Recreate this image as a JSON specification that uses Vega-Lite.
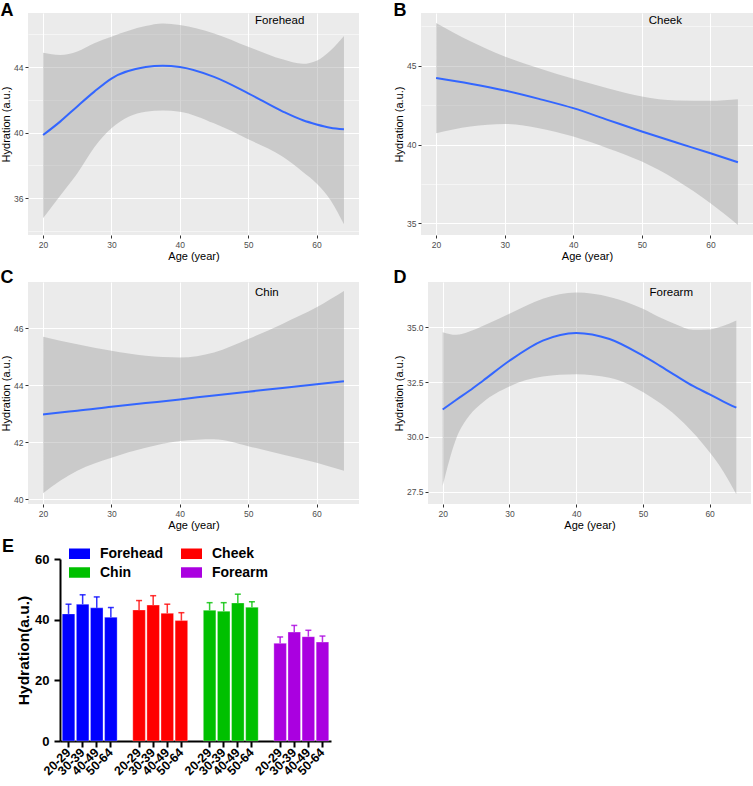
{
  "$schema": "https://vega.github.io/schema/vega-lite/v6.json",
  "padding": {"top": 2, "left": 0, "right": 0, "bottom": 0},
  "background": "white",
  "config": {
    "font": "Liberation Sans",
    "title": {"anchor": "start", "frame": "bounds", "fontSize": 18, "fontWeight": "bold", "color": "black", "offset": -5},
    "axis": {
      "gridColor": "white", "gridOpacity": 1, "domain": false, "tickColor": "#333333", "tickSize": 3, "tickWidth": 1,
      "labelColor": "#4D4D4D", "labelFontSize": 8.5, "labelPadding": 2, "labelFlush": false, "labelOverlap": false,
      "titleFontSize": 11, "titleFontWeight": "normal", "titleColor": "black", "titlePadding": 2
    }
  },
  "datasets": {
    "smooth": [
      {"site": "Forehead", "age": 20, "fit": 39.85, "lo": 34.78, "hi": 44.87},
      {"site": "Forehead", "age": 22.5, "fit": 40.67, "lo": 36.15, "hi": 44.73},
      {"site": "Forehead", "age": 25, "fit": 41.6, "lo": 37.5, "hi": 44.95},
      {"site": "Forehead", "age": 27.5, "fit": 42.5, "lo": 39.1, "hi": 45.45},
      {"site": "Forehead", "age": 30, "fit": 43.3, "lo": 40.26, "hi": 45.85},
      {"site": "Forehead", "age": 35, "fit": 44.0, "lo": 41.28, "hi": 46.5},
      {"site": "Forehead", "age": 37.5, "fit": 44.08, "lo": 41.35, "hi": 46.66},
      {"site": "Forehead", "age": 40, "fit": 44.0, "lo": 41.28, "hi": 46.56},
      {"site": "Forehead", "age": 45, "fit": 43.4, "lo": 40.57, "hi": 46.05},
      {"site": "Forehead", "age": 50, "fit": 42.4, "lo": 39.6, "hi": 45.24},
      {"site": "Forehead", "age": 55, "fit": 41.3, "lo": 38.54, "hi": 44.47},
      {"site": "Forehead", "age": 58, "fit": 40.75, "lo": 37.6, "hi": 44.2},
      {"site": "Forehead", "age": 60, "fit": 40.5, "lo": 36.9, "hi": 44.39},
      {"site": "Forehead", "age": 62, "fit": 40.3, "lo": 35.9, "hi": 45.0},
      {"site": "Forehead", "age": 64, "fit": 40.2, "lo": 34.4, "hi": 45.9},
      {"site": "Cheek", "age": 20, "fit": 44.22, "lo": 40.72, "hi": 47.71},
      {"site": "Cheek", "age": 25, "fit": 43.86, "lo": 41.14, "hi": 46.55},
      {"site": "Cheek", "age": 30, "fit": 43.43, "lo": 41.31, "hi": 45.59},
      {"site": "Cheek", "age": 35, "fit": 42.9, "lo": 41.04, "hi": 44.85},
      {"site": "Cheek", "age": 40, "fit": 42.31, "lo": 40.51, "hi": 44.17},
      {"site": "Cheek", "age": 45, "fit": 41.57, "lo": 39.77, "hi": 43.58},
      {"site": "Cheek", "age": 50, "fit": 40.83, "lo": 38.92, "hi": 43.05},
      {"site": "Cheek", "age": 55, "fit": 40.13, "lo": 37.75, "hi": 42.8},
      {"site": "Cheek", "age": 60, "fit": 39.45, "lo": 36.27, "hi": 42.78},
      {"site": "Cheek", "age": 64, "fit": 38.88, "lo": 34.9, "hi": 42.88},
      {"site": "Chin", "age": 20, "fit": 42.97, "lo": 40.21, "hi": 45.7},
      {"site": "Chin", "age": 22.5, "fit": 43.04, "lo": 40.65, "hi": 45.56},
      {"site": "Chin", "age": 25, "fit": 43.1, "lo": 41.0, "hi": 45.44},
      {"site": "Chin", "age": 30, "fit": 43.24, "lo": 41.45, "hi": 45.21},
      {"site": "Chin", "age": 35, "fit": 43.37, "lo": 41.8, "hi": 45.03},
      {"site": "Chin", "age": 40, "fit": 43.5, "lo": 42.04, "hi": 44.97},
      {"site": "Chin", "age": 45, "fit": 43.64, "lo": 42.1, "hi": 45.15},
      {"site": "Chin", "age": 50, "fit": 43.77, "lo": 41.86, "hi": 45.62},
      {"site": "Chin", "age": 55, "fit": 43.9, "lo": 41.57, "hi": 46.15},
      {"site": "Chin", "age": 60, "fit": 44.03, "lo": 41.28, "hi": 46.73},
      {"site": "Chin", "age": 64, "fit": 44.14, "lo": 41.0, "hi": 47.3},
      {"site": "Forearm", "age": 20, "fit": 31.25, "lo": 27.77, "hi": 34.77},
      {"site": "Forearm", "age": 22, "fit": 31.68, "lo": 29.9, "hi": 34.65},
      {"site": "Forearm", "age": 24, "fit": 32.1, "lo": 30.97, "hi": 34.8},
      {"site": "Forearm", "age": 26, "fit": 32.55, "lo": 31.57, "hi": 35.05},
      {"site": "Forearm", "age": 30, "fit": 33.47, "lo": 32.3, "hi": 35.61},
      {"site": "Forearm", "age": 35, "fit": 34.39, "lo": 32.75, "hi": 36.3},
      {"site": "Forearm", "age": 40, "fit": 34.74, "lo": 32.86, "hi": 36.58},
      {"site": "Forearm", "age": 45, "fit": 34.46, "lo": 32.7, "hi": 36.38},
      {"site": "Forearm", "age": 50, "fit": 33.7, "lo": 32.05, "hi": 35.84},
      {"site": "Forearm", "age": 52.5, "fit": 33.25, "lo": 31.55, "hi": 35.45},
      {"site": "Forearm", "age": 55, "fit": 32.78, "lo": 30.95, "hi": 35.12},
      {"site": "Forearm", "age": 57.5, "fit": 32.32, "lo": 30.2, "hi": 34.88},
      {"site": "Forearm", "age": 60, "fit": 31.94, "lo": 29.3, "hi": 34.9},
      {"site": "Forearm", "age": 62, "fit": 31.62, "lo": 28.45, "hi": 35.05},
      {"site": "Forearm", "age": 64, "fit": 31.33, "lo": 27.38, "hi": 35.31}
    ],
    "bars": [
      {"key": "Forehead|20-29", "site": "Forehead", "group": "20-29", "mean": 41.9, "hi": 45.1},
      {"key": "Forehead|30-39", "site": "Forehead", "group": "30-39", "mean": 45.1, "hi": 48.2},
      {"key": "Forehead|40-49", "site": "Forehead", "group": "40-49", "mean": 43.9, "hi": 47.5},
      {"key": "Forehead|50-64", "site": "Forehead", "group": "50-64", "mean": 40.8, "hi": 44.0},
      {"key": "Cheek|20-29", "site": "Cheek", "group": "20-29", "mean": 43.2, "hi": 46.3},
      {"key": "Cheek|30-39", "site": "Cheek", "group": "30-39", "mean": 44.8, "hi": 47.9},
      {"key": "Cheek|40-49", "site": "Cheek", "group": "40-49", "mean": 42.1, "hi": 45.1},
      {"key": "Cheek|50-64", "site": "Cheek", "group": "50-64", "mean": 39.7, "hi": 42.3},
      {"key": "Chin|20-29", "site": "Chin", "group": "20-29", "mean": 43.1, "hi": 45.6},
      {"key": "Chin|30-39", "site": "Chin", "group": "30-39", "mean": 42.8, "hi": 45.6},
      {"key": "Chin|40-49", "site": "Chin", "group": "40-49", "mean": 45.5, "hi": 48.4},
      {"key": "Chin|50-64", "site": "Chin", "group": "50-64", "mean": 44.1, "hi": 45.9},
      {"key": "Forearm|20-29", "site": "Forearm", "group": "20-29", "mean": 32.2, "hi": 34.3},
      {"key": "Forearm|30-39", "site": "Forearm", "group": "30-39", "mean": 35.9, "hi": 38.1},
      {"key": "Forearm|40-49", "site": "Forearm", "group": "40-49", "mean": 34.4, "hi": 36.5},
      {"key": "Forearm|50-64", "site": "Forearm", "group": "50-64", "mean": 32.6, "hi": 34.6}
    ]
  },
  "columns": 1,
  "align": "none",
  "spacing": 7,
  "resolve": {"legend": {"color": "independent"}},
  "concat": [
    {
      "spacing": 34,
      "hconcat": [
        {
          "width": 331, "height": 222,
          "title": {"text": "A", "offset": -7},
          "view": {"fill": "#EBEBEB", "stroke": null},
          "layer": [
            {
              "data": {"name": "smooth"},
              "transform": [{"filter": "datum.site == 'Forehead'"}],
              "mark": {"type": "area", "color": "#999999", "opacity": 0.4, "interpolate": "monotone"},
              "encoding": {
                "x": {"field": "age", "type": "quantitative", "scale": {"domain": [17.8, 66.2], "nice": false, "zero": false},
                  "axis": {"title": "Age (year)", "values": [20, 25, 30, 35, 40, 45, 50, 55, 60, 65], "labelExpr": "datum.value % 10 == 0 ? datum.label : ''",
                    "tickOpacity": {"condition": {"test": "datum.value % 10 == 0", "value": 1}, "value": 0},
                    "gridWidth": {"condition": {"test": "datum.value % 10 == 0", "value": 1.1}, "value": 0.5}}},
                "y": {"field": "lo", "type": "quantitative", "scale": {"domain": [33.75, 47.3], "nice": false, "zero": false},
                  "axis": {"title": "Hydration (a.u.)", "tickCount": 7, "labelExpr": "datum.value % 4 == 0 ? datum.label : ''",
                    "tickOpacity": {"condition": {"test": "datum.value % 4 == 0", "value": 1}, "value": 0},
                    "gridWidth": {"condition": {"test": "datum.value % 4 == 0", "value": 1.1}, "value": 0.5}}},
                "y2": {"field": "hi"}
              }
            },
            {
              "data": {"name": "smooth"},
              "transform": [{"filter": "datum.site == 'Forehead'"}],
              "mark": {"type": "line", "color": "#3366FF", "strokeWidth": 2, "interpolate": "monotone"},
              "encoding": {
                "x": {"field": "age", "type": "quantitative", "title": "Age (year)"},
                "y": {"field": "fit", "type": "quantitative", "title": "Hydration (a.u.)", "scale": {"domain": [33.75, 47.3], "nice": false, "zero": false}}
              }
            },
            {
              "data": {"values": [{"label": "Forehead"}]},
              "mark": {"type": "text", "align": "left", "baseline": "middle", "fontSize": 11.5, "color": "black"},
              "encoding": {"x": {"datum": 51, "type": "quantitative"}, "y": {"datum": 46.8, "type": "quantitative"}, "text": {"field": "label"}}
            }
          ]
        },
        {
          "width": 332, "height": 222,
          "title": {"text": "B", "offset": -7},
          "view": {"fill": "#EBEBEB", "stroke": null},
          "layer": [
            {
              "data": {"name": "smooth"},
              "transform": [{"filter": "datum.site == 'Cheek'"}],
              "mark": {"type": "area", "color": "#999999", "opacity": 0.4, "interpolate": "monotone"},
              "encoding": {
                "x": {"field": "age", "type": "quantitative", "scale": {"domain": [17.8, 66.2], "nice": false, "zero": false},
                  "axis": {"title": "Age (year)", "values": [20, 25, 30, 35, 40, 45, 50, 55, 60, 65], "labelExpr": "datum.value % 10 == 0 ? datum.label : ''",
                    "tickOpacity": {"condition": {"test": "datum.value % 10 == 0", "value": 1}, "value": 0},
                    "gridWidth": {"condition": {"test": "datum.value % 10 == 0", "value": 1.1}, "value": 0.5}}},
                "y": {"field": "lo", "type": "quantitative", "scale": {"domain": [34.26, 48.35], "nice": false, "zero": false},
                  "axis": {"title": "Hydration (a.u.)", "values": [35, 37.5, 40, 42.5, 45, 47.5], "labelExpr": "datum.value % 5 == 0 ? datum.label : ''",
                    "tickOpacity": {"condition": {"test": "datum.value % 5 == 0", "value": 1}, "value": 0},
                    "gridWidth": {"condition": {"test": "datum.value % 5 == 0", "value": 1.1}, "value": 0.5}}},
                "y2": {"field": "hi"}
              }
            },
            {
              "data": {"name": "smooth"},
              "transform": [{"filter": "datum.site == 'Cheek'"}],
              "mark": {"type": "line", "color": "#3366FF", "strokeWidth": 2, "interpolate": "monotone"},
              "encoding": {
                "x": {"field": "age", "type": "quantitative", "title": "Age (year)"},
                "y": {"field": "fit", "type": "quantitative", "title": "Hydration (a.u.)", "scale": {"domain": [34.26, 48.35], "nice": false, "zero": false}}
              }
            },
            {
              "data": {"values": [{"label": "Cheek"}]},
              "mark": {"type": "text", "align": "left", "baseline": "middle", "fontSize": 11.5, "color": "black"},
              "encoding": {"x": {"datum": 51, "type": "quantitative"}, "y": {"datum": 47.84, "type": "quantitative"}, "text": {"field": "label"}}
            }
          ]
        }
      ]
    },
    {
      "spacing": 34,
      "hconcat": [
        {
          "width": 331, "height": 222,
          "title": "C",
          "view": {"fill": "#EBEBEB", "stroke": null},
          "layer": [
            {
              "data": {"name": "smooth"},
              "transform": [{"filter": "datum.site == 'Chin'"}],
              "mark": {"type": "area", "color": "#999999", "opacity": 0.4, "interpolate": "monotone"},
              "encoding": {
                "x": {"field": "age", "type": "quantitative", "scale": {"domain": [17.8, 66.2], "nice": false, "zero": false},
                  "axis": {"title": "Age (year)", "values": [20, 25, 30, 35, 40, 45, 50, 55, 60, 65], "labelExpr": "datum.value % 10 == 0 ? datum.label : ''",
                    "tickOpacity": {"condition": {"test": "datum.value % 10 == 0", "value": 1}, "value": 0},
                    "gridWidth": {"condition": {"test": "datum.value % 10 == 0", "value": 1.1}, "value": 0.5}}},
                "y": {"field": "lo", "type": "quantitative", "scale": {"domain": [39.83, 47.62], "nice": false, "zero": false},
                  "axis": {"title": "Hydration (a.u.)", "values": [40, 41, 42, 43, 44, 45, 46, 47], "labelExpr": "datum.value % 2 == 0 ? datum.label : ''",
                    "tickOpacity": {"condition": {"test": "datum.value % 2 == 0", "value": 1}, "value": 0},
                    "gridWidth": {"condition": {"test": "datum.value % 2 == 0", "value": 1.1}, "value": 0.5}}},
                "y2": {"field": "hi"}
              }
            },
            {
              "data": {"name": "smooth"},
              "transform": [{"filter": "datum.site == 'Chin'"}],
              "mark": {"type": "line", "color": "#3366FF", "strokeWidth": 2, "interpolate": "monotone"},
              "encoding": {
                "x": {"field": "age", "type": "quantitative", "title": "Age (year)"},
                "y": {"field": "fit", "type": "quantitative", "title": "Hydration (a.u.)", "scale": {"domain": [39.83, 47.62], "nice": false, "zero": false}}
              }
            },
            {
              "data": {"values": [{"label": "Chin"}]},
              "mark": {"type": "text", "align": "left", "baseline": "middle", "fontSize": 11.5, "color": "black"},
              "encoding": {"x": {"datum": 51, "type": "quantitative"}, "y": {"datum": 47.25, "type": "quantitative"}, "text": {"field": "label"}}
            }
          ]
        },
        {
          "width": 323, "height": 222,
          "title": "D",
          "view": {"fill": "#EBEBEB", "stroke": null},
          "layer": [
            {
              "data": {"name": "smooth"},
              "transform": [{"filter": "datum.site == 'Forearm'"}],
              "mark": {"type": "area", "color": "#999999", "opacity": 0.4, "interpolate": "monotone"},
              "encoding": {
                "x": {"field": "age", "type": "quantitative", "scale": {"domain": [17.8, 66.2], "nice": false, "zero": false},
                  "axis": {"title": "Age (year)", "values": [20, 25, 30, 35, 40, 45, 50, 55, 60, 65], "labelExpr": "datum.value % 10 == 0 ? datum.label : ''",
                    "tickOpacity": {"condition": {"test": "datum.value % 10 == 0", "value": 1}, "value": 0},
                    "gridWidth": {"condition": {"test": "datum.value % 10 == 0", "value": 1.1}, "value": 0.5}}},
                "y": {"field": "lo", "type": "quantitative", "scale": {"domain": [26.94, 37.06], "nice": false, "zero": false},
                  "axis": {"title": "Hydration (a.u.)", "format": ".1f", "values": [27.5, 28.75, 30, 31.25, 32.5, 33.75, 35, 36.25], "labelExpr": "datum.value % 2.5 == 0 ? datum.label : ''",
                    "tickOpacity": {"condition": {"test": "datum.value % 2.5 == 0", "value": 1}, "value": 0},
                    "gridWidth": {"condition": {"test": "datum.value % 2.5 == 0", "value": 1.1}, "value": 0.5}}},
                "y2": {"field": "hi"}
              }
            },
            {
              "data": {"name": "smooth"},
              "transform": [{"filter": "datum.site == 'Forearm'"}],
              "mark": {"type": "line", "color": "#3366FF", "strokeWidth": 2, "interpolate": "monotone"},
              "encoding": {
                "x": {"field": "age", "type": "quantitative", "title": "Age (year)"},
                "y": {"field": "fit", "type": "quantitative", "title": "Hydration (a.u.)", "scale": {"domain": [26.94, 37.06], "nice": false, "zero": false}}
              }
            },
            {
              "data": {"values": [{"label": "Forearm"}]},
              "mark": {"type": "text", "align": "left", "baseline": "middle", "fontSize": 11.5, "color": "black"},
              "encoding": {"x": {"datum": 51, "type": "quantitative"}, "y": {"datum": 36.56, "type": "quantitative"}, "text": {"field": "label"}}
            }
          ]
        }
      ]
    },
    {
      "width": 303, "height": 182,
      "title": {"text": "E", "frame": "group", "dx": -26, "offset": -13},
      "view": {"stroke": null},
      "data": {"name": "bars"},
      "encoding": {
        "x": {"field": "key", "type": "nominal",
          "scale": {"domain": ["Forehead|20-29", "Forehead|30-39", "Forehead|40-49", "Forehead|50-64", "gap1|", "Cheek|20-29", "Cheek|30-39", "Cheek|40-49", "Cheek|50-64", "gap2|", "Chin|20-29", "Chin|30-39", "Chin|40-49", "Chin|50-64", "gap3|", "Forearm|20-29", "Forearm|30-39", "Forearm|40-49", "Forearm|50-64"], "range": [32, 303], "paddingInner": 0.11, "paddingOuter": 0.16},
          "axis": {"title": null, "grid": false, "domain": true, "domainColor": "black", "domainWidth": 2, "tickColor": "black", "tickWidth": 2, "tickSize": 6,
            "tickOpacity": {"condition": {"test": "split(datum.value, '|')[1] == ''", "value": 0}, "value": 1},
            "labelExpr": "split(datum.value, '|')[1]", "labelAngle": -45, "labelAlign": "right", "labelBaseline": "middle",
            "labelFontSize": 12.5, "labelFontWeight": "bold", "labelColor": "black", "labelPadding": 3}}
      },
      "layer": [
        {
          "mark": {"type": "bar", "stroke": "white", "strokeOpacity": 0.3, "strokeWidth": 1},
          "encoding": {
            "y": {"field": "mean", "type": "quantitative", "scale": {"domain": [0, 60], "nice": false},
              "axis": {"title": "Hydration(a.u.)", "offset": -32, "values": [0, 20, 40, 60], "grid": false, "domain": true, "domainColor": "black", "domainWidth": 2,
                "tickColor": "black", "tickWidth": 2, "tickSize": 6, "labelFontSize": 13, "labelFontWeight": "bold", "labelColor": "black", "labelPadding": 5,
                "titleFontSize": 15.5, "titleFontWeight": "bold", "titleColor": "black", "titlePadding": 3}},
            "color": {"field": "site", "type": "nominal",
              "scale": {"domain": ["Forehead", "Cheek", "Chin", "Forearm"], "range": ["#0000FF", "#FF0000", "#00C000", "#AA00E0"]},
              "legend": {"title": null, "orient": "none", "legendX": 41, "legendY": -16, "columns": 2, "direction": "horizontal",
                "symbolType": "M-1,-0.5H1V0.5H-1Z", "symbolSize": 441, "symbolStrokeWidth": 0, "symbolOpacity": 1,
                "labelFontSize": 14, "labelFontWeight": "bold", "labelColor": "black", "labelOffset": 10, "columnPadding": 17, "rowPadding": 1}}
          }
        },
        {
          "mark": {"type": "rule", "strokeWidth": 1.5, "opacity": 0.8},
          "encoding": {"y": {"field": "mean", "type": "quantitative"}, "y2": {"field": "hi"}, "color": {"field": "site", "type": "nominal"}}
        },
        {
          "mark": {"type": "tick", "thickness": 1.5, "size": 6, "opacity": 0.8},
          "encoding": {"y": {"field": "hi", "type": "quantitative"}, "color": {"field": "site", "type": "nominal"}}
        }
      ]
    }
  ]
}
